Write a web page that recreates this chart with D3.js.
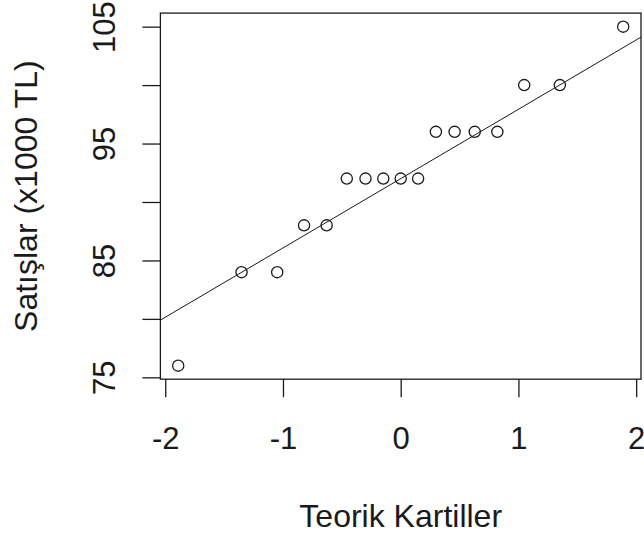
<!DOCTYPE html>
<html>
<head>
<meta charset="utf-8">
<script src="https://cdn.jsdelivr.net/npm/d3@7"></script>
<style>
  html, body { margin: 0; padding: 0; background: #fff; }
  svg { display: block; font-family: "Liberation Sans", Arial, sans-serif; }
</style>
</head>
<body>
<svg id="chart" width="644" height="538"></svg>
<script>
// Sorted sales sample (x1000 TL)
const sales = [76, 84, 84, 88, 88, 92, 92, 92, 92, 92, 96, 96, 96, 96, 100, 100, 105];
// Standard normal quantiles at (i - 0.5) / 17
const theoretical = [-1.890, -1.352, -1.049, -0.821, -0.629, -0.458, -0.299, -0.148, 0,
                     0.148, 0.299, 0.458, 0.629, 0.821, 1.049, 1.352, 1.890];
// Axis ticks and labels
const xTicks = [-2, -1, 0, 1, 2];
const yTicks = [75, 80, 85, 90, 95, 100, 105];
const yLabelled = [75, 85, 95, 105];
const xTitle = "Teorik Kartiller";
const yTitle = "Satışlar (x1000 TL)";

const svg = d3.select("#chart");
const plotL = 160.4, plotR = 641, plotT = 13.1, plotB = 379.2;

// Plot region padded by 4% of the data range on each side
const xr = d3.extent(theoretical), yr = d3.extent(sales);
const xPad = (xr[1] - xr[0]) * 0.04, yPad = (yr[1] - yr[0]) * 0.04;
const x = d3.scaleLinear().domain([xr[0] - xPad, xr[1] + xPad]).range([plotL, plotR]);
const y = d3.scaleLinear().domain([yr[0] - yPad, yr[1] + yPad]).range([plotB, plotT]);

const ink = "#1a1a1a";
const tickFont = 31;
const titleFont = 32;

// Reference line through the first and third quartiles
const q1 = d3.quantile(sales, 0.25), q3 = d3.quantile(sales, 0.75);
const z1 = -0.6744898, z3 = 0.6744898;
const slope = (q3 - q1) / (z3 - z1);
const intercept = q1 - slope * z1;

svg.append("clipPath").attr("id", "plotClip")
  .append("rect").attr("x", plotL).attr("y", plotT)
  .attr("width", plotR - plotL).attr("height", plotB - plotT);

const xd = x.domain();
svg.append("line")
  .attr("clip-path", "url(#plotClip)")
  .attr("x1", x(xd[0])).attr("y1", y(intercept + slope * xd[0]))
  .attr("x2", x(xd[1])).attr("y2", y(intercept + slope * xd[1]))
  .attr("stroke", ink).attr("stroke-width", 1);

// Points
svg.append("g").selectAll("circle")
  .data(sales.map((v, i) => [theoretical[i], v]))
  .join("circle")
  .attr("cx", d => x(d[0])).attr("cy", d => y(d[1]))
  .attr("r", 5.6)
  .attr("fill", "none").attr("stroke", ink).attr("stroke-width", 1.3);

// Bottom axis
const gx = svg.append("g").attr("transform", `translate(0,${plotB})`)
  .call(d3.axisBottom(x).tickValues(xTicks).tickSize(18).tickFormat(d3.format("d")));
gx.select(".domain").remove();
gx.selectAll(".tick line").attr("stroke", ink).attr("stroke-width", 1.3);
gx.selectAll(".tick text")
  .attr("y", 70).attr("dy", null)
  .attr("fill", ink).attr("font-size", tickFont).attr("font-family", null)
  .text(d => d < 0 ? "-" + Math.abs(d) : String(d));

// Left axis
const gy = svg.append("g").attr("transform", `translate(${plotL},0)`)
  .call(d3.axisLeft(y).tickValues(yTicks).tickSize(18)
    .tickFormat(d => yLabelled.includes(d) ? String(d) : ""));
gy.select(".domain").remove();
gy.selectAll(".tick line").attr("stroke", ink).attr("stroke-width", 1.3);
gy.selectAll(".tick text")
  .attr("x", null).attr("dy", null)
  .attr("transform", "translate(-45.4,0) rotate(-90)")
  .attr("text-anchor", "middle")
  .attr("fill", ink).attr("font-size", tickFont).attr("font-family", null);

// Plot frame
svg.append("rect")
  .attr("x", plotL).attr("y", plotT)
  .attr("width", plotR - plotL).attr("height", plotB - plotT)
  .attr("fill", "none").attr("stroke", ink).attr("stroke-width", 1.3);

// Axis titles
svg.append("text")
  .attr("x", (plotL + plotR) / 2).attr("y", 526.7)
  .attr("text-anchor", "middle").attr("font-size", titleFont).attr("fill", ink)
  .text(xTitle);

svg.append("text")
  .attr("transform", `translate(37.3,${(plotT + plotB) / 2}) rotate(-90)`)
  .attr("text-anchor", "middle").attr("font-size", titleFont).attr("fill", ink)
  .text(yTitle);
</script>
</body>
</html>
